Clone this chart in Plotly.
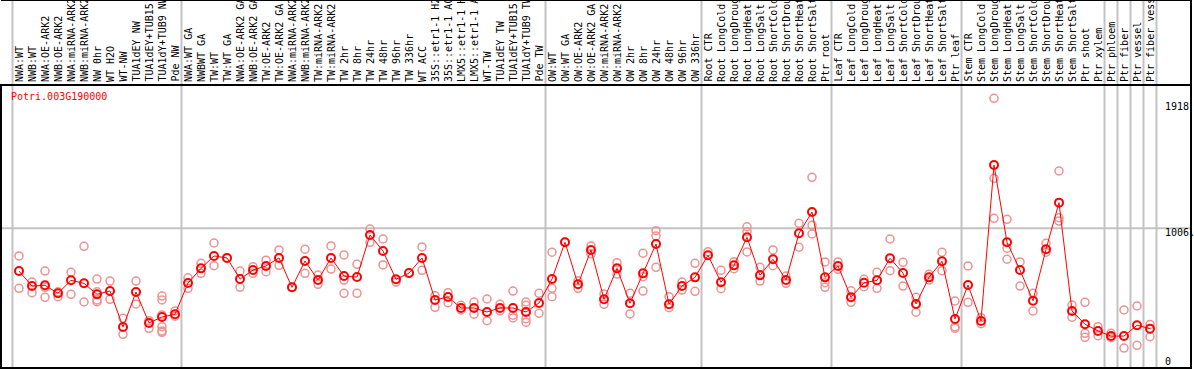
import plotly.graph_objects as go

gene = "Potri.003G190000"

samples = [
    "NWA:WT", "NWB:WT", "NWA:OE-ARK2", "NWB:OE-ARK2", "NWA:miRNA-ARK2", "NWB:miRNA-ARK2",
    "NW 0hr", "WT H2O", "WT-NW", "TUA1dEY NW", "TUA1dEY+TUB15 NW", "TUA1dY+TUB9 NW", "Pde NW",
    "NWA:WT GA", "NWBWT GA", "TW:WT", "TW:WT GA", "NWA:OE-ARK2 GA", "NWB:OE-ARK2 GA",
    "TW:OE-ARK2", "TW:OE-ARK2 GA", "NWA:miRNA-ARK2 GA", "NWB:miRNA-ARK2 GA", "TW:miRNA-ARK2",
    "TW:miRNA-ARK2", "TW 2hr", "TW 8hr", "TW 24hr", "TW 48hr", "TW 96hr", "TW 336hr", "WT ACC",
    "35S::etr1-1 H2O", "35S::etr1-1 ACC", "LMX5::etr1-1 H2O", "LMX5::etr1-1 ACC", "WT-TW",
    "TUA1dEY TW", "TUA1dEY+TUB15 TW", "TUA1dY+TUB9 TW", "Pde TW",
    "OW:WT", "OW:WT GA", "OW:OE-ARK2", "OW:OE-ARK2 GA", "OW:miRNA-ARK2", "OW:miRNA-ARK2",
    "OW 2hr", "OW 8hr", "OW 24hr", "OW 48hr", "OW 96hr", "OW 336hr",
    "Root CTR", "Root LongCold", "Root LongDrought", "Root LongHeat", "Root LongSalt",
    "Root ShortCold", "Root ShortDrought", "Root ShortHeat", "Root ShortSalt", "Ptr root",
    "Leaf CTR", "Leaf LongCold", "Leaf LongDrought", "Leaf LongHeat", "Leaf LongSalt",
    "Leaf ShortCold", "Leaf ShortDrought", "Leaf ShortHeat", "Leaf ShortSalt", "Ptr leaf",
    "Stem CTR", "Stem LongCold", "Stem LongDrought", "Stem LongHeat", "Stem LongSalt",
    "Stem ShortCold", "Stem ShortDrought", "Stem ShortHeat", "Stem ShortSalt",
    "Ptr shoot", "Ptr xylem", "Ptr phloem", "Ptr fiber", "Ptr vessel", "Ptr fiber vessel",
]

mean_values = [
    706, 601, 606, 550, 641, 620, 543, 566, 314, 559, 342, 384, 403,
    622, 725, 812, 798, 650, 713, 742, 798, 592, 777, 643, 798, 671, 664, 959, 847, 648,
    692, 798, 503, 524, 447, 447, 419, 447, 447, 419, 482,
    650, 908, 613, 854, 508, 725, 480, 690, 896, 473, 601, 662,
    817, 627, 746, 943, 676, 789, 643, 971, 1120, 662,
    742, 522, 624, 641, 796, 692, 475, 662, 775, 370,
    608, 356, 1450, 908, 713, 498, 859, 1186, 426,
    333, 286, 250, 250, 326, 302,
]

replicates = [
    [812, 585], [629, 554], [706, 522, 592], [561, 526], [697, 543], [880, 489],
    [650, 561, 503, 491], [636, 508], [375, 262], [636, 475], [358, 304],
    [531, 503, 398, 316, 286, 276], [426, 389],
    [659, 585], [760, 690], [903, 744], [798], [706, 592], [737, 690], [782, 702],
    [854, 746], [592], [859, 690], [678, 613], [882, 720], [819, 643, 550], [753, 550],
    [1001, 908], [931, 749], [629], [692], [875, 711], [533, 452], [554, 484], [466, 433],
    [489, 403], [510, 358], [473, 426], [566, 396, 377], [489, 466, 372, 347], [550, 410],
    [838, 585, 526], [910], [638, 585], [882, 826], [545, 473], [765, 685], [550, 405],
    [831, 667, 566], [989, 952, 732], [526, 449], [629, 573], [760, 564],
    [842], [711, 582], [772, 723], [1017, 982, 840], [732, 636], [854, 744], [671, 620],
    [1041, 873], [1364, 1027, 966], [770, 624, 592],
    [770, 718], [568, 487], [648, 596], [697, 585], [931, 709], [767, 601], [522, 417],
    [683, 643], [838, 709], [496, 316, 304],
    [742, 487], [379, 337], [1918, 1357, 1076], [1069, 866, 789], [770, 601], [550, 426],
    [901, 838], [1408, 1080, 1057], [468, 382],
    [487, 269, 241], [316, 253], [269, 239], [433, 166], [461, 185], [332, 246],
]

group_boundaries = [-0.5, 12.5, 40.5, 52.5, 62.5, 72.5, 83.5, 84.5, 85.5, 86.5, 87.5]
axis_labels = ["1918", "1006.", "0"]
grid_value = 1006

idx = list(range(len(samples)))
rep_x, rep_y = [], []
for i, reps in enumerate(replicates):
    for r in reps:
        rep_x.append(i)
        rep_y.append(r)

# pixel geometry
W, H = 1194, 370
L, R, T, B = 1, 3, 85, 2
plot_h = H - T - B
plot_w = W - L - R
x0 = (L - 19) / 13
x1 = (L + plot_w - 19) / 13
y_of = lambda py: (371.7 - py) * 7.0156
y_top = y_of(T)
y_bot = y_of(H - B)

fig = go.Figure()
fig.add_trace(go.Scatter(
    x=rep_x, y=rep_y, mode="markers",
    marker=dict(symbol="circle-open", size=8, color="rgb(238,145,145)",
                line=dict(width=1.5, color="rgb(238,145,145)")),
    hoverinfo="skip", showlegend=False))
fig.add_trace(go.Scatter(
    x=idx, y=mean_values, mode="lines+markers",
    line=dict(color="red", width=1),
    marker=dict(symbol="circle-open", size=8, color="red",
                line=dict(width=2, color="red")),
    showlegend=False))

shapes = []
top_paper = (H - B) / plot_h  # paper y of figure top
for b in group_boundaries:
    shapes.append(dict(type="line", xref="x", yref="paper", x0=b, x1=b, y0=0, y1=top_paper,
                       line=dict(color="rgb(195,195,195)", width=2), layer="below"))
shapes.append(dict(type="line", xref="paper", yref="y", x0=0, x1=1, y0=grid_value, y1=grid_value,
                   line=dict(color="rgb(195,195,195)", width=2), layer="below"))
# frame
shapes.append(dict(type="rect", xref="paper", yref="paper", x0=0, x1=1, y0=0, y1=1,
                   line=dict(color="black", width=2)))
shapes.append(dict(type="line", xref="paper", yref="paper", x0=1, x1=1, y0=1, y1=top_paper,
                   line=dict(color="black", width=2)))
shapes.append(dict(type="line", xref="paper", yref="paper", x0=0, x1=1, y0=top_paper, y1=top_paper,
                   line=dict(color="black", width=2)))

mono = "DejaVu Sans Mono, Liberation Mono, monospace"
annotations = []
for i, s in enumerate(samples):
    annotations.append(dict(x=i, y=1, xref="x", yref="paper", text=s, showarrow=False,
                            textangle=-90, xanchor="center", yanchor="bottom", yshift=1,
                            font=dict(family=mono, size=10, color="black")))
annotations.append(dict(x=(9 - L) / plot_w, y=(H - B - 97) / plot_h, xref="paper", yref="paper",
                        text=gene, showarrow=False, xanchor="left", yanchor="middle",
                        font=dict(family=mono, size=10, color="red")))
for lab, py in zip(axis_labels, [106.7, 232.5, 361.5]):
    annotations.append(dict(x=(1163 - L) / plot_w, y=(H - B - py) / plot_h, xref="paper", yref="paper",
                            text=lab, showarrow=False, xanchor="left", yanchor="middle",
                            font=dict(family=mono, size=10, color="black")))

fig.update_layout(
    width=W, height=H, margin=dict(l=L, r=R, t=T, b=B, pad=0),
    paper_bgcolor="white", plot_bgcolor="white",
    xaxis=dict(range=[x0, x1], showgrid=False, zeroline=False, showticklabels=False, ticks=""),
    yaxis=dict(range=[y_bot, y_top], showgrid=False, zeroline=False, showticklabels=False, ticks=""),
    shapes=shapes, annotations=annotations,
)
fig.write_html("out.html", config={"displayModeBar": False},
               post_script="document.body.style.margin='0';document.body.style.overflow='hidden';")
